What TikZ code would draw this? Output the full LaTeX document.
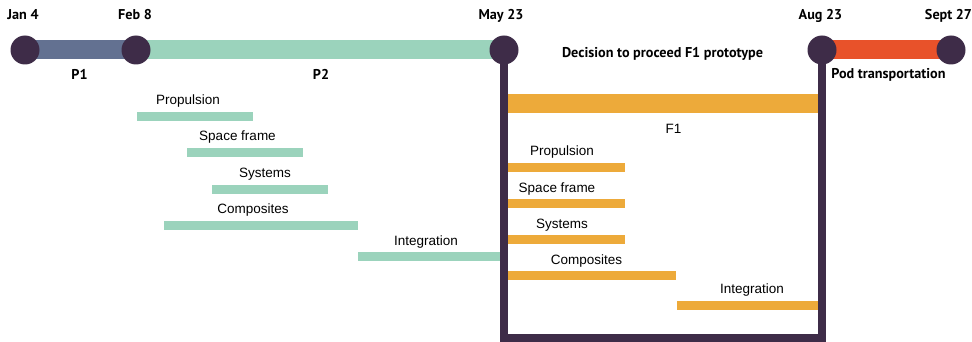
\documentclass[tikz,border=0pt]{standalone}
\usepackage{fontspec}
\setmainfont{Liberation Sans}
\newfontfamily\datefont{PT Sans}
\usetikzlibrary{backgrounds}
\definecolor{slate}{RGB}{99,113,145}
\definecolor{mint}{RGB}{155,211,188}
\definecolor{plum}{RGB}{62,44,72}
\definecolor{amber}{RGB}{237,170,58}
\definecolor{vermilion}{RGB}{232,82,42}
\tikzset{
  milestone/.style={circle, fill=plum, inner sep=0pt, minimum size=29pt},
  phasebar/.style={line width=19pt},
  taskbar/.style={line width=9pt},
  frame/.style={plum, line width=8pt},
  tasklabel/.style={anchor=base, inner sep=0pt, font=\fontsize{13.5}{16}\selectfont},
  boldlabel/.style={anchor=base, inner sep=0pt, font=\datefont\bfseries\fontsize{14.2}{16}\selectfont},
}
\begin{document}
\begin{tikzpicture}[x=1pt,y=-1pt]
\useasboundingbox (0,0) rectangle (972,342);
% milestones
\node[milestone] (J) at (25,50) {};
\node[milestone] (F) at (136,50) {};
\node[milestone] (M) at (504,50) {};
\node[milestone] (A) at (822,50) {};
\node[milestone] (S) at (951,50) {};
\begin{scope}[on background layer]
\draw[phasebar,slate] (J.center) -- (F.center);
\draw[phasebar,mint] (F.center) -- (M.center);
\draw[phasebar,vermilion] (A.center) -- (S.center);
\draw[phasebar,amber] (504,104) -- (822,104);
% P2 tasks
\draw[taskbar,mint] (137,116.5) -- (253,116.5);
\draw[taskbar,mint] (187,153) -- (303,153);
\draw[taskbar,mint] (212,189.5) -- (328,189.5);
\draw[taskbar,mint] (164,225) -- (358,225);
\draw[taskbar,mint] (358,256) -- (504,256);
% F1 tasks
\draw[taskbar,amber] (504,167.5) -- (625,167.5);
\draw[taskbar,amber] (504,203.5) -- (625,203.5);
\draw[taskbar,amber] (504,239.5) -- (625,239.5);
\draw[taskbar,amber] (504,275.5) -- (676,275.5);
\draw[taskbar,amber] (677,305) -- (822,305);
\draw[frame] (M.center) -- ++(0,287.5) -| (A.center);
\end{scope}
\node[boldlabel] (1) at (23,19.5) {Jan 4};
\node[boldlabel] (2) at (135,19.5) {Feb 8};
\node[boldlabel] (3) at (501,19.5) {May 23};
\node[boldlabel] (4) at (820.5,19.5) {Aug 23};
\node[boldlabel] (5) at (948.5,19.5) {Sept 27};
\node[boldlabel] (6) at (79.5,80) {P1};
\node[boldlabel] (7) at (321,80) {P2};
\node[boldlabel] (8) at (662.5,58) {Decision to proceed F1 prototype};
\node[boldlabel] (9) at (888.5,79) {Pod transportation};
\node[tasklabel] (10) at (673.5,134) {F1};
\node[tasklabel] (11) at (188,105) {Propulsion};
\node[tasklabel] (12) at (237.5,141) {Space frame};
\node[tasklabel] (13) at (265,177) {Systems};
\node[tasklabel] (14) at (253,213) {Composites};
\node[tasklabel] (15) at (426,245) {Integration};
\node[tasklabel] (16) at (562,156) {Propulsion};
\node[tasklabel] (17) at (557,192) {Space frame};
\node[tasklabel] (18) at (562,228) {Systems};
\node[tasklabel] (19) at (586.5,264) {Composites};
\node[tasklabel] (20) at (752,293) {Integration};
\end{tikzpicture}
\end{document}
